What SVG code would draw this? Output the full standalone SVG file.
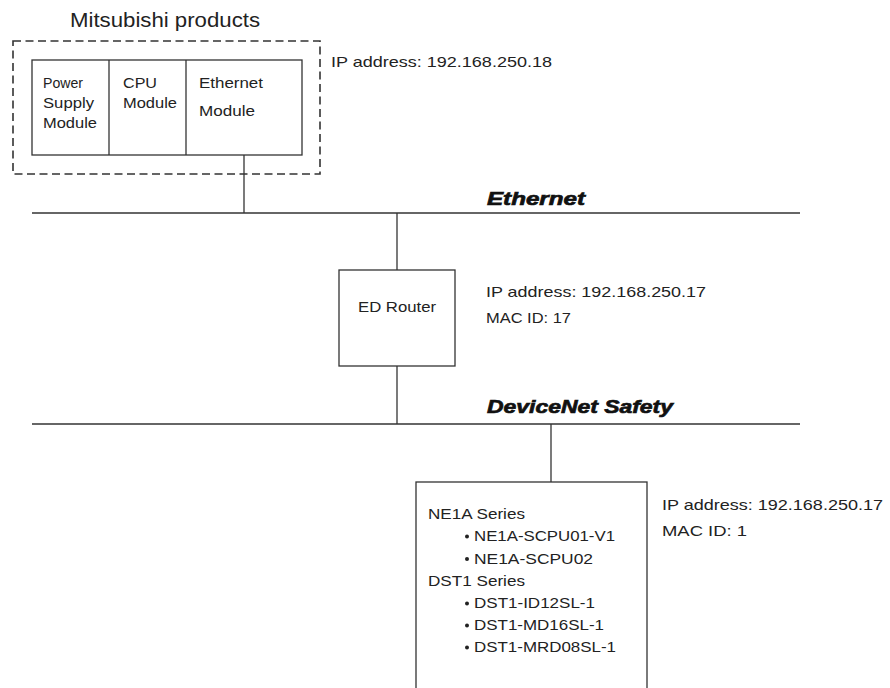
<svg xmlns="http://www.w3.org/2000/svg" width="890" height="688" viewBox="0 0 890 688">
<style>
.ln{stroke:#333;stroke-width:1.3;fill:none}
.bx{stroke:#333;stroke-width:1.3;fill:#fff}
.dash{stroke:#333;stroke-width:1.6;fill:none;stroke-dasharray:8 4.5}
.t{font-family:"Liberation Sans",Arial,sans-serif;font-size:15px;fill:#222}
.tt{font-family:"Liberation Sans",Arial,sans-serif;font-size:20px;fill:#222}
.net{font-family:"Liberation Sans",Arial,sans-serif;font-size:19px;font-weight:bold;font-style:italic;fill:#111;stroke:#111;stroke-width:0.7}
</style>
<rect width="890" height="688" fill="#fff"/>
<g id="connectors">
<line class="ln" x1="32" y1="213" x2="800" y2="213"/>
<line class="ln" x1="32" y1="424" x2="800" y2="424"/>
<line class="ln" x1="244" y1="155" x2="244" y2="213"/>
<line class="ln" x1="397" y1="213" x2="397" y2="270"/>
<line class="ln" x1="397" y1="366" x2="397" y2="424"/>
<line class="ln" x1="551" y1="424" x2="551" y2="482"/>
</g>
<g id="labels">
<text class="net" x="487" y="205" textLength="98" lengthAdjust="spacingAndGlyphs">Ethernet</text>
<text class="net" x="487" y="413" textLength="186" lengthAdjust="spacingAndGlyphs">DeviceNet Safety</text>
</g>
<g id="mitsubishi">
<text class="tt" x="70" y="27" textLength="190" lengthAdjust="spacingAndGlyphs">Mitsubishi products</text>
<rect class="dash" x="13" y="41" width="307" height="133"/>
<rect class="bx" x="32" y="60" width="270" height="95"/>
<line class="ln" x1="109" y1="60" x2="109" y2="155"/>
<line class="ln" x1="186" y1="60" x2="186" y2="155"/>
<text class="t" x="43" y="88" textLength="40" lengthAdjust="spacingAndGlyphs">Power</text>
<text class="t" x="43" y="108" textLength="51" lengthAdjust="spacingAndGlyphs">Supply</text>
<text class="t" x="43" y="128" textLength="54" lengthAdjust="spacingAndGlyphs">Module</text>
<text class="t" x="123" y="88" textLength="34" lengthAdjust="spacingAndGlyphs">CPU</text>
<text class="t" x="123" y="108" textLength="54" lengthAdjust="spacingAndGlyphs">Module</text>
<text class="t" x="199" y="88" textLength="64" lengthAdjust="spacingAndGlyphs">Ethernet</text>
<text class="t" x="199" y="116" textLength="56" lengthAdjust="spacingAndGlyphs">Module</text>
<text class="t" x="331" y="67" textLength="221" lengthAdjust="spacingAndGlyphs">IP address: 192.168.250.18</text>
</g>
<g id="router">
<rect class="bx" x="339" y="270" width="116" height="96"/>
<text class="t" x="358" y="312" textLength="78" lengthAdjust="spacingAndGlyphs">ED Router</text>
<text class="t" x="486" y="297" textLength="220" lengthAdjust="spacingAndGlyphs">IP address: 192.168.250.17</text>
<text class="t" x="486" y="323" textLength="85" lengthAdjust="spacingAndGlyphs">MAC ID: 17</text>
</g>
<g id="safety">
<rect class="bx" x="416" y="482" width="231" height="230"/>
<text class="t" x="428" y="519" textLength="97" lengthAdjust="spacingAndGlyphs">NE1A Series</text>
<circle cx="467" cy="536.5" r="2" fill="#222"/>
<text class="t" x="474" y="541" textLength="141" lengthAdjust="spacingAndGlyphs">NE1A-SCPU01-V1</text>
<circle cx="467" cy="559" r="2" fill="#222"/>
<text class="t" x="474" y="563.5" textLength="119" lengthAdjust="spacingAndGlyphs">NE1A-SCPU02</text>
<text class="t" x="428" y="586" textLength="97" lengthAdjust="spacingAndGlyphs">DST1 Series</text>
<circle cx="467" cy="603.5" r="2" fill="#222"/>
<text class="t" x="474" y="608" textLength="121" lengthAdjust="spacingAndGlyphs">DST1-ID12SL-1</text>
<circle cx="467" cy="625.5" r="2" fill="#222"/>
<text class="t" x="474" y="630" textLength="130" lengthAdjust="spacingAndGlyphs">DST1-MD16SL-1</text>
<circle cx="467" cy="647.5" r="2" fill="#222"/>
<text class="t" x="474" y="652" textLength="142" lengthAdjust="spacingAndGlyphs">DST1-MRD08SL-1</text>
<text class="t" x="662" y="510" textLength="221" lengthAdjust="spacingAndGlyphs">IP address: 192.168.250.17</text>
<text class="t" x="662" y="536" textLength="85" lengthAdjust="spacingAndGlyphs">MAC ID: 1</text>
</g>
</svg>
